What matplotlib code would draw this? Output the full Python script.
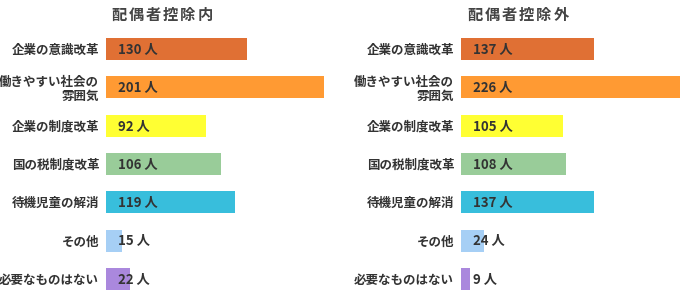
import matplotlib
matplotlib.use("Agg")
import matplotlib.pyplot as plt

plt.rcParams['font.family'] = ['Noto Sans CJK JP', 'DejaVu Sans']

categories = ["企業の意識改革", "働きやすい社会の\n雰囲気", "企業の制度改革", "国の税制度改革",
              "待機児童の解消", "その他", "必要なものはない"]
inside = [130, 201, 92, 106, 119, 15, 22]
outside = [137, 226, 105, 108, 137, 24, 9]
titles = ["配偶者控除内", "配偶者控除外"]
colors = ["#E07034", "#FF9A33", "#FFFF33", "#99CC99", "#38BEDC", "#A6CFF5", "#AA88DD"]

W, H = 680, 290
fig = plt.figure(figsize=(W / 100, H / 100), dpi=100)

def panel(left_px, width_px, values, title, title_x):
    ax = fig.add_axes([left_px / W, (H - 298) / H, width_px / W, 268.2 / H])
    ypos = list(range(len(values)))
    ax.barh(ypos, values, height=0.575, color=colors)
    ax.set_xlim(0, max(values))
    ax.set_ylim(len(values) - 0.5, -0.5)
    ax.set_yticks(ypos)
    ax.set_yticklabels(categories, fontsize=9, fontweight='bold', color='#333333',
                       linespacing=1.15)
    ax.tick_params(axis='y', length=0, pad=5)
    ax.set_xticks([])
    for s in ax.spines.values():
        s.set_visible(False)
    for i, v in enumerate(values):
        ax.annotate(f"{v} 人", xy=(0, i), xytext=(12, 0), textcoords='offset pixels',
                    va='center', ha='left', fontsize=9.5, fontweight='bold', color='#333333')
    # title drawn char by char for the wide letter spacing
    n = len(title)
    for k, ch in enumerate(title):
        cx = title_x + (k - (n - 1) / 2) * 17.2
        fig.text(cx / W, 1 - 15 / H, ch, ha='center', va='center', fontsize=11,
                 fontweight='bold', color='#444444')

panel(106, 218, inside, titles[0], 162)
panel(461, 219, outside, titles[1], 518)

fig.savefig("out.png", dpi=100)
